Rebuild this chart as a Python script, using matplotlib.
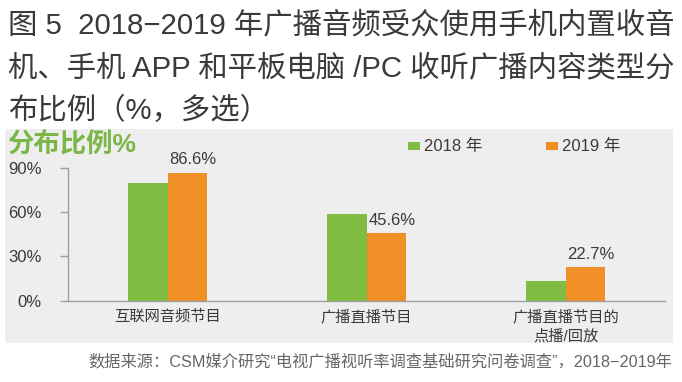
import matplotlib
matplotlib.use("Agg")
import matplotlib.pyplot as plt
from matplotlib.patches import Rectangle
import numpy as np

plt.rcParams['font.family'] = ['Liberation Sans', 'Noto Sans CJK SC', 'DejaVu Sans']

title_lines = ["图 5  2018−2019 年广播音频受众使用手机内置收音",
               "机、手机 APP 和平板电脑 /PC 收听广播内容类型分",
               "布比例（%，多选）"]
subtitle = "分布比例%"
source = "数据来源：CSM媒介研究“电视广播视听率调查基础研究问卷调查”，2018−2019年"
categories = ["互联网音频节目", "广播直播节目", "广播直播节目的\n点播/回放"]
series_names = ["2018 年", "2019 年"]
values_2018 = [79.5, 58.5, 13.7]
values_2019 = [86.6, 45.6, 22.7]
yticks = [0, 30, 60, 90]
ytick_labels = ["0%", "30%", "60%", "90%"]

GREEN = "#80bc42"
ORANGE = "#f08f26"
TEXT = "#3a3a3a"
AXIS = "#a0a0a0"
PANEL = "#eeeeee"

W, H = 682, 382
fig = plt.figure(figsize=(W / 100, H / 100), dpi=100)

def fx(px):
    return px / W

def fy(py):
    return 1 - py / H

# gray panel
fig.patches.append(Rectangle((fx(5), fy(343)), fx(673) - fx(5), fy(129) - fy(343),
                             transform=fig.transFigure, facecolor=PANEL, edgecolor="none", zorder=-5))

# title
for i, line in enumerate(title_lines):
    fig.text(fx(8), fy(25 + 43 * i), line, fontsize=21.2, color=TEXT, ha="left", va="center")

fig.text(fx(7), fy(145), subtitle, fontsize=19, color="#7ab648", fontweight="bold",
         ha="left", va="center")

fig.text(fx(672), fy(362), source, fontsize=11.7, color="#666666", ha="right", va="center")

# axes
ax = fig.add_axes([fx(68), fy(300.7), fx(665) - fx(68), fy(168) - fy(300.7)])
ax.set_facecolor("none")
x = np.arange(len(categories)) + 0.5
bw = 0.2
b1 = ax.bar(x - bw / 2, values_2018, bw, color=GREEN, label=series_names[0], zorder=2)
b2 = ax.bar(x + bw / 2, values_2019, bw, color=ORANGE, label=series_names[1], zorder=2)
for rect, v in zip(b2, values_2019):
    ax.annotate(f"{v:.1f}%", (rect.get_x() + rect.get_width() / 2, v),
                xytext=(4, 4), textcoords="offset points", ha="center", va="bottom",
                fontsize=12, color=TEXT)

ax.set_xlim(0, 3)
ax.set_ylim(0, 90)
ax.set_yticks(yticks)
ax.set_yticklabels(ytick_labels, fontsize=12, color=TEXT)
ax.set_xticks(x)
ax.set_xticklabels(categories, fontsize=11, color=TEXT, linespacing=1.45)
ax.tick_params(axis="x", length=0, pad=6)
ax.tick_params(axis="y", length=6, width=1, color=AXIS, direction="out", pad=13)
for s in ["top", "right"]:
    ax.spines[s].set_visible(False)
for s in ["left", "bottom"]:
    ax.spines[s].set_color(AXIS)
    ax.spines[s].set_linewidth(1)

# legend (manual)
for name, col, px in [(series_names[0], GREEN, 408), (series_names[1], ORANGE, 546)]:
    fig.patches.append(Rectangle((fx(px), fy(150)), fx(12), fy(142) - fy(150),
                                 transform=fig.transFigure, facecolor=col, edgecolor="none"))
    fig.text(fx(px + 16), fy(146), name, fontsize=12, color=TEXT, ha="left", va="center")

fig.savefig("out.png", dpi=100)
